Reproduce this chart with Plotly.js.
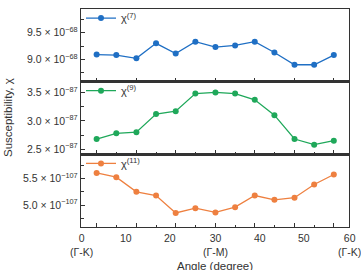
<!DOCTYPE html>
<html>
<head>
<meta charset="utf-8">
<script src="https://cdn.plot.ly/plotly-3.0.1.min.js"></script>
<style>
  html, body { margin: 0; padding: 0; background: #fff; }
  #chart { width: 361px; height: 270px; }
</style>
</head>
<body>
<div id="chart"></div>
<script>
// Scan angles (degrees) and susceptibility components
const angles = [3.5, 7.9, 12.4, 16.8, 21.2, 25.6, 30.1, 34.5, 38.9, 43.3, 47.8, 52.2, 56.6];
const chi7  = [9.09e-68, 9.08e-68, 9.02e-68, 9.30e-68, 9.11e-68, 9.33e-68, 9.23e-68, 9.26e-68, 9.33e-68, 9.13e-68, 8.90e-68, 8.90e-68, 9.08e-68];
const chi9  = [2.68e-87, 2.78e-87, 2.80e-87, 3.12e-87, 3.17e-87, 3.48e-87, 3.50e-87, 3.48e-87, 3.37e-87, 3.10e-87, 2.68e-87, 2.58e-87, 2.65e-87];
const chi11 = [5.61e-107, 5.53e-107, 5.25e-107, 5.18e-107, 4.85e-107, 4.94e-107, 4.86e-107, 4.96e-107, 5.18e-107, 5.10e-107, 5.14e-107, 5.39e-107, 5.58e-107];

const seriesNames = ['χ<sup>(7)</sup>', 'χ<sup>(9)</sup>', 'χ<sup>(11)</sup>'];
const seriesColors = ['#1f6fc4', '#1fa85a', '#ee8040'];

// Angle axis labels with high-symmetry directions
const angleTicks = [0, 10, 20, 30, 40, 50, 60];
const angleLabels = ['0<br>(Γ-K)', '10', '20', '30<br>(Γ-M)', '40', '50', '60<br>(Γ-K)'];

// Y tick labels per panel
const ticks7 = [9.0e-68, 9.5e-68];
const labels7 = ['9.0 × 10<sup>−68</sup>', '9.5 × 10<sup>−68</sup>'];
const ticks9 = [2.5e-87, 3.0e-87, 3.5e-87];
const labels9 = ['2.5 × 10<sup>−87</sup>', '3.0 × 10<sup>−87</sup>', '3.5 × 10<sup>−87</sup>'];
const ticks11 = [5.0e-107, 5.5e-107];
const labels11 = ['5.0 × 10<sup>−107</sup>', '5.5 × 10<sup>−107</sup>'];

const ink = '#333333';
const family = 'Liberation Sans, Arial, sans-serif';
const font = { family: family, size: 10, color: ink };
const tickFont = { family: family, size: 10.5, color: ink };
const titleFont = { family: family, size: 11.5, color: ink };
const legendFont = { family: family, size: 11, color: ink };

const evenAngles = angles.filter((_, i) => i % 2 === 0);
const oddAngles = angles.filter((_, i) => i % 2 === 1);

function trace(y, i, xa, ya, lg) {
  return {
    x: angles, y: y, xaxis: xa, yaxis: ya, legend: lg,
    type: 'scatter', mode: 'lines+markers', name: seriesNames[i],
    line: { color: seriesColors[i], width: 1.3 },
    marker: { color: seriesColors[i], size: 6 }
  };
}

const data = [
  trace(chi11, 2, 'x', 'y', 'legend'),
  trace(chi9, 1, 'x2', 'y2', 'legend2'),
  trace(chi7, 0, 'x3', 'y3', 'legend3')
];

function xAxis(anchor) {
  return {
    anchor: anchor, range: [0, 60], domain: [0, 1],
    tickmode: 'array', tickvals: evenAngles, showticklabels: false,
    ticks: 'inside', ticklen: 4, tickcolor: ink, tickwidth: 1,
    minor: { tickmode: 'array', tickvals: oddAngles, ticks: 'inside', ticklen: 2, tickcolor: ink },
    showline: true, mirror: true, linecolor: ink, linewidth: 1.2,
    showgrid: false, zeroline: false, fixedrange: true
  };
}

function yAxis(anchor, domain, range, tv, tt, minorVals) {
  return {
    anchor: anchor, domain: domain, range: range,
    tickmode: 'array', tickvals: tv, ticktext: tt,
    ticks: 'inside', ticklen: 4, tickcolor: ink, tickwidth: 1,
    minor: { tickmode: 'array', tickvals: minorVals, ticks: 'inside', ticklen: 2.5, tickcolor: ink },
    showline: true, mirror: true, linecolor: ink, linewidth: 1.2,
    showgrid: false, zeroline: false, fixedrange: true,
    tickfont: tickFont
  };
}

function legendAt(y) {
  return {
    x: 0.0, y: y, xanchor: 'left', yanchor: 'top',
    bgcolor: 'rgba(0,0,0,0)', borderwidth: 0,
    font: legendFont, itemwidth: 30, tracegroupgap: 0
  };
}

const annotations = angleTicks.map((v, i) => ({
  x: v, xref: 'x', y: 0, yref: 'paper', yanchor: 'top', xanchor: 'center',
  yshift: -3, text: angleLabels[i], showarrow: false, font: tickFont, align: 'center'
}));
// Shared axis titles
annotations.push({
  x: 0.5, xref: 'paper', y: 0, yref: 'paper', yanchor: 'top', yshift: -31,
  text: 'Angle (degree)', showarrow: false, font: titleFont
});
annotations.push({
  x: 0, xref: 'paper', xanchor: 'center', xshift: -73,
  y: 0.5, yref: 'paper', yanchor: 'middle',
  text: 'Susceptibility, χ', textangle: -90, showarrow: false, font: titleFont
});

const legendLift = 0.025;

const layout = {
  width: 361, height: 270,
  margin: { l: 81, r: 12, t: 4, b: 43 },
  paper_bgcolor: '#ffffff', plot_bgcolor: '#ffffff',
  font: font,
  showlegend: true,
  xaxis: xAxis('y'),
  xaxis2: xAxis('y2'),
  xaxis3: xAxis('y3'),
  yaxis: yAxis('x', [0, 1 / 3], [4.583e-107, 5.963e-107], ticks11, labels11, [4.75e-107, 5.25e-107, 5.75e-107]),
  yaxis2: yAxis('x2', [1 / 3, 2 / 3], [2.41e-87, 3.69e-87], ticks9, labels9, [2.75e-87, 3.25e-87]),
  yaxis3: yAxis('x3', [2 / 3, 1], [8.585e-68, 9.94e-68], ticks7, labels7, [8.75e-68, 9.25e-68, 9.75e-68]),
  legend: legendAt(1 / 3 + legendLift),
  legend2: legendAt(2 / 3 + legendLift),
  legend3: legendAt(1 + legendLift),
  annotations: annotations
};

Plotly.newPlot('chart', data, layout, { displayModeBar: false, staticPlot: true });
</script>
</body>
</html>
